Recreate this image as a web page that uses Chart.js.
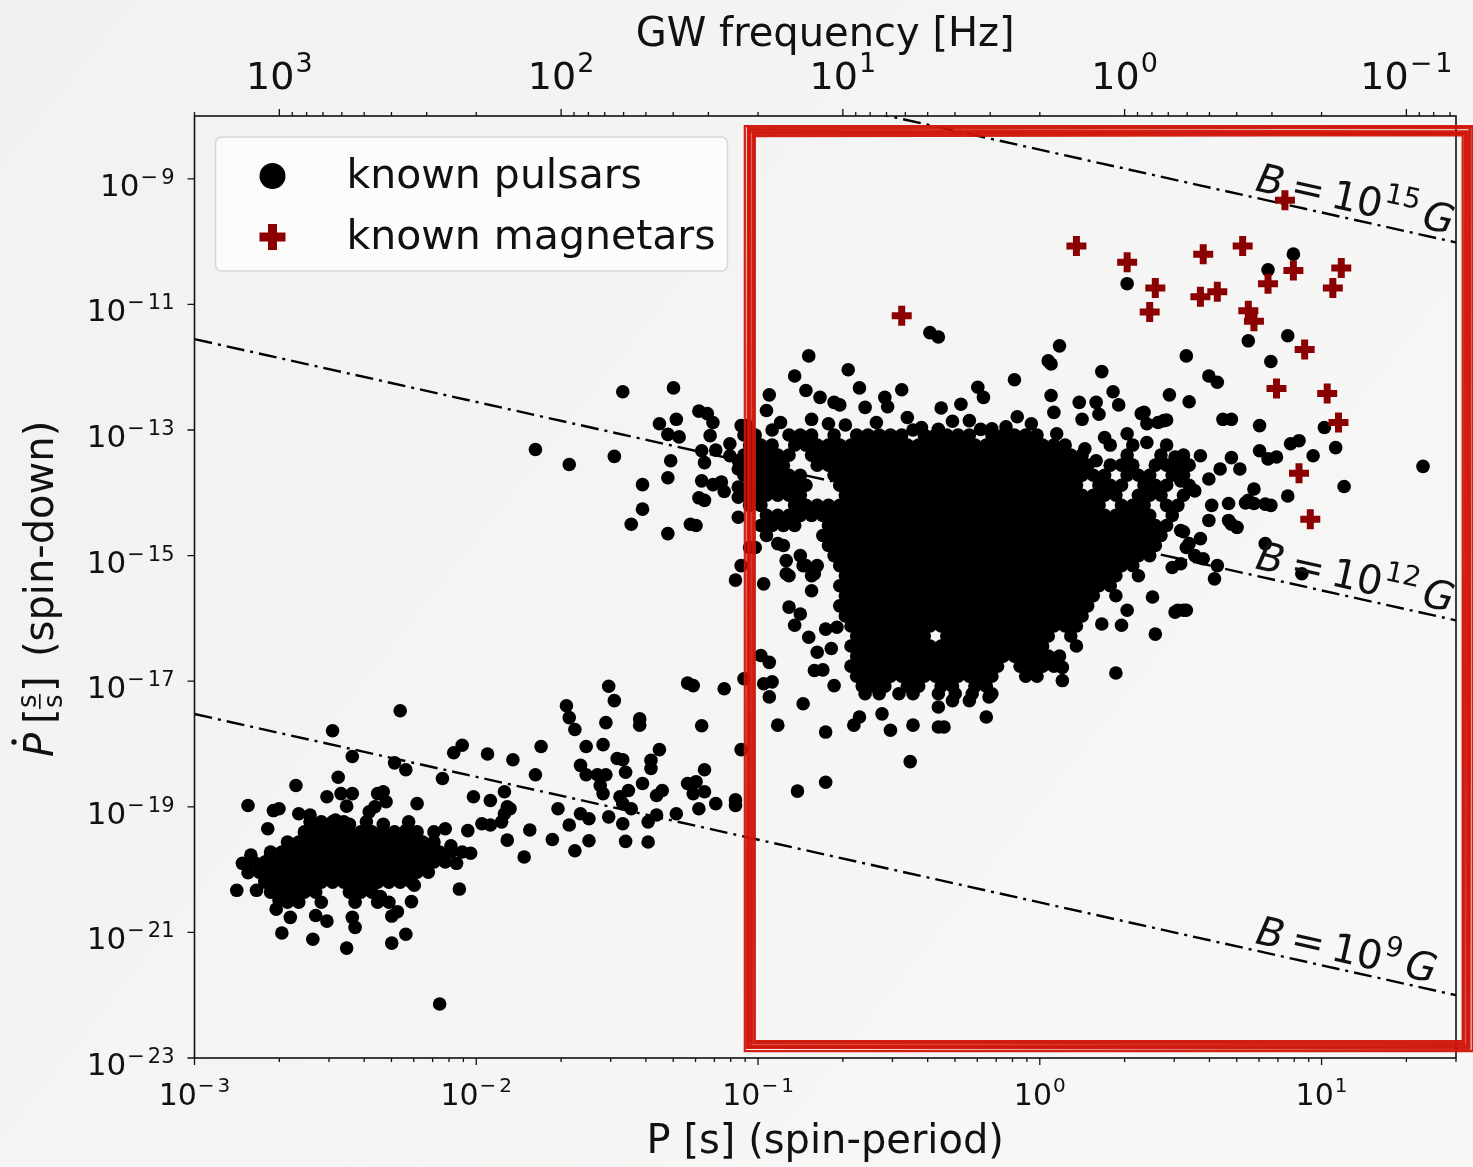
<!DOCTYPE html>
<html>
<head>
<meta charset="utf-8">
<script src="https://cdn.jsdelivr.net/npm/chart.js@4.4.1/dist/chart.umd.min.js"></script>
<style>
  html, body { margin: 0; padding: 0; background: #f4f4f3; }
  #wrap { width: 1473px; height: 1167px; position: relative; }
</style>
</head>
<body>
<div id="wrap"><canvas id="chart"></canvas></div>
<script>
// axis ticks
const periodMajor = [1e-3, 1e-2, 1e-1, 1, 10];
const periodLabels = ['−3', '−2', '−1', '0', '1'];
const freqMajor = [1e3, 1e2, 1e1, 1, 1e-1];
const freqLabels = ['3', '2', '1', '0', '−1'];
const pdotMajor = [1e-9, 1e-11, 1e-13, 1e-15, 1e-17, 1e-19, 1e-21, 1e-23];
const pdotLabels = ['−9', '−11', '−13', '−15', '−17', '−19', '−21', '−23'];

// constant B-field lines (end points at P = 1e-3 s and P = 30 s)
const bLineP = [1e-3, 30];
const bLine9 = [3.0e-18, 1.0e-22];
const bLine12 = [2.8e-12, 9.3e-17];
const bLine15 = [2.9e-6, 9.7e-11];
const bLabelExp = ['9', '12', '15'];
const bLabelP = 5.7;

// known magnetars (log10 P, log10 Pdot)
const magnetarLogP = [0.87, 0.31, 0.58, 0.72, 0.41, 0.39, 0.57, 0.63, 0.81, 0.90, 1.07, 1.04, 0.74, 0.76, 0.94, 0.84, 1.02, 1.06, 0.92, 0.96, 0.13, -0.49];
const magnetarLogPdot = [-9.34, -10.33, -10.20, -10.07, -10.74, -11.12, -10.88, -10.80, -10.67, -10.46, -10.42, -10.74, -11.10, -11.27, -11.72, -12.34, -12.42, -12.88, -13.69, -14.42, -10.07, -11.18];

// known pulsars, [log10 P, log10 Pdot]
const mspPulsars = [
  [-2.27,-17.47],[-2.51,-17.79],[-2.44,-18.20],[-2.29,-18.30],[-2.25,-18.41],[-2.05,-18.02],[-2.08,-18.14],[-1.96,-18.16],
  [-2.12,-18.55],[-2.49,-18.53],[-2.64,-18.66],[-2.53,-18.84],[-2.48,-18.79],[-2.44,-18.79],[-2.46,-18.99],[-2.35,-18.79],
  [-2.33,-18.76],[-2.32,-18.92],[-2.21,-18.95],[-2.38,-19.08],[-2.36,-19.00],[-2.81,-18.98],[-2.72,-19.06],[-2.70,-19.03],
  [-2.63,-19.11],[-2.59,-19.13],[-2.50,-19.21],[-2.45,-19.28],[-2.33,-19.28],[-2.24,-19.24],[-2.25,-19.38],[-2.74,-19.35],
  [-2.57,-19.32],[-2.15,-19.40],[-2.11,-19.35],[-2.03,-19.38],[-1.98,-19.27],[-1.95,-19.29],[-1.91,-19.24],[-1.90,-19.11],
  [-1.89,-19.00],[-2.01,-18.84],[-1.95,-18.90],[-2.06,-20.31],[-2.02,-19.74],[-2.07,-19.90],[-2.13,-22.14],[-2.85,-20.33],
  [-2.80,-19.77],[-2.78,-20.33],[-2.71,-20.63],[-2.66,-20.76],[-2.69,-21.01],[-2.58,-21.11],[-2.53,-20.82],[-2.57,-20.73],
  [-2.46,-21.25],[-2.43,-20.92],[-2.44,-20.76],[-2.30,-21.17],[-2.25,-21.03],[-2.28,-20.67],[-2.30,-20.74],[-2.23,-20.51],
  [-2.34,-20.43],[-2.22,-20.25],[-2.73,-19.77],[-2.75,-20.17],[-2.70,-20.49],[-2.83,-19.90],[-2.81,-20.05],[-2.09,-19.62]
];
const mspCoreRows = [
  [-19.24, [-2.59,-2.55,-2.51,-2.47,-2.39]],
  [-19.40, [-2.61,-2.57,-2.53,-2.49,-2.45,-2.41,-2.37,-2.33,-2.29,-2.25,-2.21]],
  [-19.56, [-2.67,-2.63,-2.59,-2.55,-2.51,-2.47,-2.43,-2.39,-2.35,-2.31,-2.27,-2.23,-2.19,-2.15]],
  [-19.72, [-2.73,-2.69,-2.65,-2.61,-2.57,-2.53,-2.49,-2.45,-2.41,-2.37,-2.33,-2.29,-2.25,-2.21,-2.17,-2.13,-2.09,-2.05]],
  [-19.88, [-2.79,-2.75,-2.71,-2.67,-2.63,-2.59,-2.55,-2.51,-2.47,-2.43,-2.39,-2.35,-2.31,-2.27,-2.23,-2.19,-2.15,-2.11]],
  [-20.04, [-2.77,-2.73,-2.69,-2.65,-2.61,-2.57,-2.53,-2.49,-2.45,-2.41,-2.37,-2.33,-2.29,-2.25,-2.21,-2.17]],
  [-20.20, [-2.75,-2.71,-2.67,-2.63,-2.59,-2.55,-2.51,-2.47,-2.43,-2.39,-2.35,-2.31,-2.27,-2.23]],
  [-20.36, [-2.73,-2.69,-2.65,-2.61,-2.57,-2.45,-2.41,-2.37]],
  [-20.52, [-2.67,-2.63,-2.55,-2.43,-2.35,-2.31]]
];
const recycledPulsars = [
  [-1.48,-12.39],[-1.30,-12.33],[-1.79,-13.31],[-1.67,-13.55],[-1.51,-13.42],[-1.35,-12.90],[-1.29,-12.83],[-1.21,-12.70],
  [-1.18,-12.74],[-1.16,-12.88],[-1.32,-13.07],[-1.28,-13.11],[-1.17,-13.09],[-1.06,-12.93],[-1.31,-13.49],[-1.32,-13.76],
  [-1.41,-13.87],[-1.41,-14.26],[-1.45,-14.50],[-1.32,-14.65],[-1.24,-14.50],[-1.22,-14.52],[-1.20,-13.33],[-1.15,-13.32],
  [-1.19,-13.52],[-1.10,-13.22],[-1.10,-13.41],[-1.07,-13.49],[-1.07,-13.62],[-1.20,-13.81],[-1.16,-13.87],[-1.13,-13.83],
  [-1.12,-13.98],[-1.21,-14.08],[-1.19,-14.12],[-1.07,-14.07],[-1.07,-14.39],[-1.07,-13.91],[-1.03,-14.87],[-1.06,-15.16],
  [-1.08,-15.39],[-1.25,-17.03],[-1.23,-17.07],[-1.12,-17.12],[-1.53,-17.08],[-1.51,-17.31],[-1.68,-17.39],[-1.67,-17.58],
  [-1.65,-17.77],[-1.54,-17.66],[-1.42,-17.60],[-1.42,-17.70],[-1.20,-17.71],[-1.77,-18.04],[-1.61,-18.04],[-1.55,-18.01],
  [-1.35,-18.09],[-1.87,-18.25],[-1.63,-18.34],[-1.50,-18.23],[-1.48,-18.25],[-1.38,-18.26],[-1.38,-18.39],[-1.47,-18.45],
  [-1.79,-18.49],[-1.61,-18.49],[-1.57,-18.49],[-1.54,-18.49],[-1.19,-18.41],[-1.06,-18.09],[-1.41,-18.63],[-1.56,-18.66],
  [-1.25,-18.63],[-1.22,-18.60],[-1.34,-18.74],[-1.36,-18.82],[-1.46,-18.74],[-1.55,-18.79],[-1.49,-18.84],[-1.23,-18.79],
  [-1.19,-18.76],[-1.15,-18.95],[-1.08,-18.89],[-1.08,-18.98],[-1.21,-19.03],[-1.29,-19.11],[-1.48,-18.95],[-1.45,-19.03],
  [-1.53,-19.16],[-1.63,-19.11],[-1.60,-19.19],[-1.67,-19.29],[-1.71,-19.03],[-1.48,-19.27],[-1.39,-19.24],[-1.36,-19.13],
  [-1.60,-19.54],[-1.47,-19.55],[-1.39,-19.56],[-1.73,-19.52],[-1.65,-19.70],[-1.83,-19.80],[-1.81,-19.37],[-1.89,-19.53],
  [-1.88,-19.03],[-1.90,-18.76]
];
const youngPulsars = [
  [-0.39,-11.45],[-0.36,-11.52],[-0.82,-11.82],[0.07,-11.66],[0.03,-11.90],[0.04,-11.95],[0.22,-12.07],[-0.68,-12.04],
  [-0.09,-12.20],[-0.87,-12.14],[-0.83,-12.37],[-0.64,-12.33],[-0.96,-12.44],[-0.78,-12.48],[-0.73,-12.56],[-0.71,-12.60],
  [-0.49,-12.36],[-0.55,-12.48],[-0.22,-12.32],[-0.20,-12.48],[0.04,-12.45],[0.26,-12.39],[0.46,-12.44],[0.52,-11.82],
  [0.14,-12.56],[0.20,-12.56],[0.28,-12.60],[-0.35,-12.65],[-0.28,-12.59],[-0.54,-12.63],[-0.97,-12.69],[-0.08,-12.79],
  [0.05,-12.72],[0.15,-12.83],[0.21,-12.75],[0.37,-12.72],[0.44,-12.85],[0.23,-13.12],[0.31,-13.06],[0.38,-13.20],
  [0.06,-13.06],[0.16,-13.30],[0.20,-13.49],[0.04,-13.30],[-0.81,-12.83],[-0.75,-12.90],[-0.92,-12.88],[-1.04,-12.93],
  [-0.62,-12.64],[-0.42,-12.96],[-0.36,-12.99],[-0.21,-12.99],[-0.17,-12.98],[-0.03,-12.90],[0.48,-13.43],[0.50,-13.81],
  [0.47,-15.19],[0.40,-15.66],[0.48,-15.90],[0.51,-15.87],[0.41,-16.25],[0.31,-15.87],[0.29,-16.11],[0.22,-16.09],
  [0.27,-16.87],[0.08,-16.99],[0.08,-16.78],[-0.19,-17.57],[-0.36,-17.73],[-0.34,-17.73],[-0.45,-17.70],[-0.53,-17.78],
  [-0.56,-17.52],[-0.64,-17.57],[-0.66,-17.70],[-0.76,-17.81],[-0.93,-17.70],[-0.84,-17.36],[-0.73,-17.07],[-0.36,-17.41],
  [-0.31,-17.31],[-0.25,-17.31],[-0.18,-17.25],[-0.81,-15.56],[-0.98,-15.45],[-0.89,-15.82],[-0.85,-15.93],[-0.87,-16.11],
  [-0.82,-16.30],[-0.76,-16.17],[-0.72,-16.14],[-0.79,-16.54],[-0.74,-16.48],[-0.80,-16.83],[-0.77,-16.82],[-0.99,-16.59],
  [-0.96,-16.70],[-0.98,-17.04],[-0.95,-17.01],[-0.96,-17.25],[-1.05,-16.96],[-0.93,-14.81],[-0.90,-15.08],[-0.84,-15.16],
  [-0.80,-15.29],[-1.01,-14.87],[-0.90,-15.29],[-0.86,-18.75],[-0.76,-18.61],[-0.46,-18.28],
  [-0.69,-12.92],[-0.58,-12.88],[-0.47,-12.80],[-0.31,-12.86],[-0.12,-12.95],[-0.95,-13.00],[-0.45,-13.00],[-0.25,-12.85]
];
const slowPulsars = [
  [0.90,-10.20],[0.81,-10.45],[0.31,-10.67],[0.88,-11.50],[0.74,-11.58],[0.82,-11.91],[0.60,-12.14],[0.63,-12.24],
  [0.53,-12.55],[0.36,-12.74],[0.42,-12.88],[0.45,-12.84],[0.38,-12.90],[0.65,-12.83],[0.68,-12.83],[0.78,-12.93],
  [0.78,-13.33],[0.81,-13.46],[0.84,-13.43],[0.89,-13.22],[0.92,-13.17],[0.97,-13.41],[1.01,-12.96],[1.05,-13.28],
  [1.08,-13.90],[0.88,-14.05],[1.36,-13.58],[0.68,-13.44],[0.57,-13.41],[0.71,-13.62],[0.64,-13.62],[0.60,-13.78],
  [0.55,-13.97],[0.76,-13.94],[0.74,-14.12],[0.80,-14.18],[0.82,-14.20],[0.60,-14.44],[0.67,-14.44],[0.70,-14.55],
  [0.57,-14.73],[0.50,-14.60],[0.53,-14.81],[0.61,-14.20],[0.67,-14.17],[0.73,-14.16],[0.76,-14.17],[0.68,-14.50],
  [0.51,-14.62],[0.52,-14.87],[0.50,-15.13],[0.63,-15.16],[0.62,-15.37],[0.93,-15.29],[0.52,-15.87],[0.49,-15.87],
  [0.80,-14.81],[0.55,-15.00],[0.58,-15.05]
];
// the dense part of the normal pulsar population, one row per log10 Pdot level
const pulsarCoreRows = [
  [-13.08, [-1.05,-1.01,-0.89,-0.85,-0.81,-0.73,-0.65,-0.61,-0.57,-0.53,-0.49,-0.41,-0.37,-0.33,-0.29,-0.25,-0.17,-0.13,-0.09,-0.05,-0.01]],
  [-13.24, [-1.03,-0.99,-0.95,-0.87,-0.83,-0.79,-0.75,-0.71,-0.67,-0.63,-0.59,-0.55,-0.51,-0.47,-0.43,-0.39,-0.35,-0.31,-0.27,-0.23,-0.19,-0.15,-0.11,-0.07,-0.03,0.01,0.05,0.09,0.25,0.33,0.45]],
  [-13.40, [-1.05,-1.01,-0.97,-0.93,-0.89,-0.81,-0.77,-0.73,-0.69,-0.65,-0.61,-0.57,-0.53,-0.49,-0.45,-0.41,-0.37,-0.33,-0.29,-0.25,-0.21,-0.17,-0.13,-0.09,-0.05,-0.01,0.03,0.07,0.11,0.15,0.31,0.43,0.51]],
  [-13.56, [-1.03,-0.99,-0.95,-0.91,-0.79,-0.75,-0.71,-0.67,-0.63,-0.59,-0.55,-0.51,-0.47,-0.43,-0.39,-0.35,-0.31,-0.27,-0.23,-0.19,-0.15,-0.11,-0.07,-0.03,0.01,0.05,0.09,0.13,0.17,0.25,0.29,0.33,0.41,0.45,0.49,0.53]],
  [-13.72, [-1.05,-1.01,-0.97,-0.93,-0.89,-0.85,-0.73,-0.69,-0.65,-0.61,-0.57,-0.53,-0.49,-0.45,-0.41,-0.37,-0.33,-0.29,-0.25,-0.21,-0.17,-0.13,-0.09,-0.05,-0.01,0.03,0.07,0.11,0.15,0.19,0.23,0.31,0.35,0.39,0.47,0.51]],
  [-13.88, [-1.03,-0.99,-0.95,-0.91,-0.87,-0.83,-0.71,-0.67,-0.63,-0.59,-0.55,-0.51,-0.47,-0.43,-0.39,-0.35,-0.31,-0.27,-0.23,-0.19,-0.15,-0.11,-0.07,-0.03,0.01,0.05,0.09,0.13,0.21,0.25,0.29,0.37,0.41,0.45,0.53]],
  [-14.04, [-1.05,-1.01,-0.97,-0.93,-0.89,-0.85,-0.69,-0.65,-0.61,-0.57,-0.53,-0.49,-0.45,-0.41,-0.37,-0.33,-0.29,-0.25,-0.21,-0.17,-0.13,-0.09,-0.05,-0.01,0.03,0.07,0.11,0.15,0.19,0.23,0.27,0.35,0.39,0.43,0.51]],
  [-14.20, [-1.03,-0.99,-0.87,-0.83,-0.79,-0.75,-0.71,-0.67,-0.63,-0.59,-0.55,-0.51,-0.47,-0.43,-0.39,-0.35,-0.31,-0.27,-0.23,-0.19,-0.15,-0.11,-0.07,-0.03,0.01,0.05,0.09,0.13,0.17,0.21,0.29,0.33,0.37,0.45,0.49]],
  [-14.36, [-0.97,-0.93,-0.89,-0.85,-0.81,-0.77,-0.73,-0.69,-0.65,-0.61,-0.57,-0.53,-0.49,-0.45,-0.41,-0.37,-0.33,-0.29,-0.25,-0.21,-0.17,-0.13,-0.09,-0.05,-0.01,0.03,0.07,0.11,0.15,0.19,0.23,0.27,0.31,0.35,0.39,0.47]],
  [-14.52, [-0.99,-0.95,-0.91,-0.87,-0.75,-0.71,-0.67,-0.63,-0.59,-0.55,-0.51,-0.47,-0.43,-0.39,-0.35,-0.31,-0.27,-0.23,-0.19,-0.15,-0.11,-0.07,-0.03,0.01,0.05,0.09,0.13,0.17,0.21,0.25,0.29,0.33,0.37,0.41,0.45]],
  [-14.68, [-0.97,-0.77,-0.73,-0.69,-0.65,-0.61,-0.57,-0.53,-0.49,-0.45,-0.41,-0.37,-0.33,-0.29,-0.25,-0.21,-0.17,-0.13,-0.09,-0.05,-0.01,0.03,0.07,0.11,0.15,0.19,0.23,0.27,0.31,0.35,0.39,0.43]],
  [-14.84, [-0.91,-0.75,-0.71,-0.67,-0.63,-0.59,-0.55,-0.51,-0.47,-0.43,-0.39,-0.35,-0.31,-0.27,-0.23,-0.19,-0.15,-0.11,-0.07,-0.03,0.01,0.05,0.09,0.13,0.17,0.21,0.25,0.29,0.33,0.37,0.41]],
  [-15.00, [-0.85,-0.73,-0.69,-0.65,-0.61,-0.57,-0.53,-0.49,-0.45,-0.41,-0.37,-0.33,-0.29,-0.25,-0.21,-0.17,-0.13,-0.09,-0.05,-0.01,0.03,0.07,0.11,0.15,0.19,0.23,0.27,0.31,0.35,0.39]],
  [-15.16, [-0.83,-0.79,-0.71,-0.67,-0.63,-0.59,-0.55,-0.51,-0.47,-0.43,-0.39,-0.35,-0.31,-0.27,-0.23,-0.19,-0.15,-0.11,-0.07,-0.03,0.01,0.05,0.09,0.13,0.17,0.21,0.25,0.29,0.33]],
  [-15.32, [-0.89,-0.81,-0.69,-0.65,-0.61,-0.57,-0.53,-0.49,-0.45,-0.41,-0.37,-0.33,-0.29,-0.25,-0.21,-0.17,-0.13,-0.09,-0.05,-0.01,0.03,0.07,0.11,0.15,0.19,0.23,0.27,0.35]],
  [-15.48, [-0.71,-0.67,-0.63,-0.59,-0.55,-0.51,-0.47,-0.43,-0.39,-0.35,-0.31,-0.27,-0.23,-0.19,-0.15,-0.11,-0.07,-0.03,0.01,0.05,0.09,0.13,0.17,0.21,0.25]],
  [-15.64, [-0.69,-0.65,-0.61,-0.57,-0.53,-0.49,-0.45,-0.41,-0.37,-0.33,-0.29,-0.25,-0.21,-0.17,-0.13,-0.09,-0.05,-0.01,0.03,0.07,0.11,0.15,0.19,0.27]],
  [-15.80, [-0.71,-0.67,-0.63,-0.59,-0.55,-0.51,-0.47,-0.43,-0.39,-0.35,-0.31,-0.27,-0.23,-0.19,-0.15,-0.11,-0.07,-0.03,0.01,0.05,0.09,0.13,0.17]],
  [-15.96, [-0.69,-0.65,-0.61,-0.57,-0.53,-0.49,-0.45,-0.41,-0.37,-0.33,-0.29,-0.25,-0.21,-0.17,-0.13,-0.09,-0.05,-0.01,0.03,0.07,0.11,0.15]],
  [-16.12, [-0.67,-0.63,-0.59,-0.55,-0.51,-0.47,-0.43,-0.39,-0.35,-0.31,-0.27,-0.23,-0.19,-0.15,-0.11,-0.07,-0.03,0.01,0.05,0.09,0.13]],
  [-16.28, [-0.65,-0.61,-0.57,-0.53,-0.49,-0.45,-0.41,-0.33,-0.29,-0.25,-0.21,-0.17,-0.13,-0.09,-0.05,-0.01,0.03,0.11]],
  [-16.44, [-0.67,-0.63,-0.59,-0.55,-0.51,-0.47,-0.43,-0.39,-0.35,-0.31,-0.27,-0.23,-0.19,-0.15,-0.11,-0.07,-0.03,0.01,0.13]],
  [-16.60, [-0.65,-0.61,-0.57,-0.53,-0.49,-0.45,-0.41,-0.37,-0.33,-0.29,-0.25,-0.21,-0.17,-0.13,-0.09,-0.05,-0.01,0.03,0.07]],
  [-16.76, [-0.67,-0.63,-0.59,-0.55,-0.51,-0.47,-0.43,-0.39,-0.35,-0.31,-0.27,-0.23,-0.19,-0.15,-0.07,-0.03,0.01,0.05]],
  [-16.92, [-0.65,-0.61,-0.57,-0.53,-0.49,-0.45,-0.41,-0.37,-0.33,-0.29,-0.25,-0.21,-0.17,-0.05,-0.01]],
  [-17.08, [-0.63,-0.59,-0.55,-0.47,-0.43,-0.35,-0.31,-0.23,-0.19]],
  [-17.20, [-0.62,-0.57,-0.50,-0.45,-0.36,-0.30,-0.24,-0.17]]
];

// hand-drawn highlight box, in data units
const highlightP = [0.0935, 33];
const highlightPdot = [1.55e-23, 5.75e-9];

const FONT = '"DejaVu Sans", sans-serif';
const TEXT = '#111';

function pairsToPoints(pairs) {
  return pairs.map(p => ({ x: Math.pow(10, p[0]), y: Math.pow(10, p[1]) }));
}
function rowsToPoints(rows) {
  const out = [];
  rows.forEach(r => r[1].forEach(lp => out.push({ x: Math.pow(10, lp), y: Math.pow(10, r[0]) })));
  return out;
}

const pulsarData = [].concat(
  pairsToPoints(mspPulsars), rowsToPoints(mspCoreRows), pairsToPoints(recycledPulsars),
  pairsToPoints(youngPulsars), pairsToPoints(slowPulsars), rowsToPoints(pulsarCoreRows)
);
const magnetarData = magnetarLogP.map((lp, i) => ({ x: Math.pow(10, lp), y: Math.pow(10, magnetarLogPdot[i]) }));

function lineData(pdots) {
  return bLineP.map((p, i) => ({ x: p, y: pdots[i] }));
}
const bLines = [bLine9, bLine12, bLine15];

// "10" with a superscript exponent
function drawPower(ctx, exp, x, y, size, supSize, rise, align) {
  ctx.font = size + 'px ' + FONT;
  const wb = ctx.measureText('10').width;
  ctx.font = supSize + 'px ' + FONT;
  const neg = exp.charAt(0) === '−';
  const digits = neg ? exp.slice(1) : exp;
  const wm = neg ? ctx.measureText('−').width + 3 : 0;
  const ws = wm + ctx.measureText(digits).width;
  const total = wb + 1 + ws;
  const x0 = align === 'center' ? x - total / 2 : x - total;
  ctx.textAlign = 'left';
  ctx.textBaseline = 'alphabetic';
  ctx.font = size + 'px ' + FONT;
  ctx.fillText('10', x0, y);
  ctx.font = supSize + 'px ' + FONT;
  if (neg) ctx.fillText('−', x0 + wb + 1, y - rise);
  ctx.fillText(digits, x0 + wb + 1 + wm, y - rise);
}

function drawBLabel(ctx, chart, pdots, exp) {
  const xs = chart.scales.x, ys = chart.scales.y;
  const x0 = xs.getPixelForValue(bLineP[0]), y0 = ys.getPixelForValue(pdots[0]);
  const x1 = xs.getPixelForValue(bLineP[1]), y1 = ys.getPixelForValue(pdots[1]);
  const ang = Math.atan2(y1 - y0, x1 - x0);
  const ax = xs.getPixelForValue(bLabelP);
  const ay = y0 + (ax - x0) * (y1 - y0) / (x1 - x0);
  ctx.save();
  ctx.translate(ax, ay);
  ctx.rotate(ang);
  ctx.translate(0, -7);
  ctx.fillStyle = TEXT;
  ctx.textAlign = 'left';
  ctx.textBaseline = 'alphabetic';
  let cx = 0;
  ctx.font = 'italic 40px ' + FONT;
  ctx.fillText('B', cx, 0);
  cx += ctx.measureText('B').width + 8;
  ctx.font = '40px ' + FONT;
  ctx.fillText('=', cx, 0);
  cx += ctx.measureText('=').width + 8;
  ctx.fillText('10', cx, 0);
  cx += ctx.measureText('10').width + 1;
  ctx.font = '28px ' + FONT;
  ctx.fillText(exp, cx, -17);
  cx += ctx.measureText(exp).width + 6;
  ctx.font = 'italic 40px ' + FONT;
  ctx.fillText('G', cx, 0);
  ctx.restore();
}

function drawPlus(ctx, x, y, size, arm, color) {
  ctx.fillStyle = color;
  ctx.fillRect(x - size / 2, y - arm / 2, size, arm);
  ctx.fillRect(x - arm / 2, y - size / 2, arm, size);
}

const decor = {
  id: 'decor',
  beforeDraw(chart) {
    const { ctx, width, height } = chart;
    const g = ctx.createLinearGradient(0, 0, width, height);
    g.addColorStop(0, '#f1f1f1');
    g.addColorStop(1, '#f8f8f7');
    ctx.save();
    ctx.fillStyle = g;
    ctx.fillRect(0, 0, width, height);
    ctx.restore();
  },
  afterDraw(chart) {
    const { ctx, chartArea: a, scales } = chart;
    const xs = scales.x, x2 = scales.x2, ys = scales.y;
    ctx.save();

    // B-field labels
    bLines.forEach((l, i) => drawBLabel(ctx, chart, l, bLabelExp[i]));

    // spines
    ctx.strokeStyle = '#111';
    ctx.lineWidth = 1.6;
    ctx.strokeRect(a.left, a.top, a.right - a.left, a.bottom - a.top);

    // bottom ticks
    ctx.lineWidth = 1.3;
    ctx.beginPath();
    for (let e = -3; e <= 1; e++) {
      for (let k = 1; k <= 9; k++) {
        const v = k * Math.pow(10, e);
        if (v > 30.01) break;
        const px = xs.getPixelForValue(v);
        ctx.moveTo(px, a.bottom);
        ctx.lineTo(px, a.bottom + (k === 1 ? 7 : 4));
      }
    }
    // top ticks (GW frequency = 2 / P)
    for (let e = -2; e <= 3; e++) {
      for (let k = 1; k <= 9; k++) {
        const v = k * Math.pow(10, e);
        if (v < 2 / 30 - 1e-9 || v > 2000.01) continue;
        const px = x2.getPixelForValue(v);
        ctx.moveTo(px, a.top);
        ctx.lineTo(px, a.top - (k === 1 ? 7 : 4));
      }
    }
    // left ticks
    pdotMajor.forEach(v => {
      const py = ys.getPixelForValue(v);
      ctx.moveTo(a.left, py);
      ctx.lineTo(a.left - 7, py);
    });
    ctx.stroke();

    // tick labels
    ctx.fillStyle = TEXT;
    periodMajor.forEach((v, i) => {
      drawPower(ctx, periodLabels[i], xs.getPixelForValue(v), a.bottom + 47, 30, 20, 13, 'center');
    });
    freqMajor.forEach((v, i) => {
      drawPower(ctx, freqLabels[i], x2.getPixelForValue(v), a.top - 27, 38, 27, 17, 'center');
    });
    pdotMajor.forEach((v, i) => {
      drawPower(ctx, pdotLabels[i], a.left - 20, ys.getPixelForValue(v) + 17, 31, 21, 12, 'right');
    });

    // axis titles
    const cxm = (a.left + a.right) / 2;
    ctx.textAlign = 'center';
    ctx.font = '40px ' + FONT;
    ctx.fillText('GW frequency [Hz]', cxm, 46);
    ctx.fillText('P [s] (spin-period)', cxm, 1153);

    // y title:  P-dot [s/s] (spin-down), rotated
    ctx.save();
    ctx.translate(53, 757);
    ctx.rotate(-Math.PI / 2);
    ctx.textAlign = 'left';
    ctx.font = 'italic 40px ' + FONT;
    ctx.fillText('P', 0, 0);
    ctx.beginPath();
    ctx.arc(15, -39, 2.7, 0, Math.PI * 2);
    ctx.fill();
    ctx.font = '40px ' + FONT;
    ctx.fillText('[', 33, 0);
    ctx.font = '26px ' + FONT;
    ctx.fillText('s', 49, -17);
    ctx.fillText('s', 49, 9);
    ctx.fillRect(48, -14, 15, 1.6);
    ctx.font = '40px ' + FONT;
    ctx.fillText(']', 65, 0);
    ctx.fillText('(spin-down)', 100, 0);
    ctx.restore();

    // legend
    const lx = a.left + 21, ly = a.top + 21;
    ctx.beginPath();
    ctx.roundRect(lx, ly, 512, 134, 6);
    ctx.fillStyle = 'rgba(253,253,253,0.85)';
    ctx.fill();
    ctx.strokeStyle = '#d6d6d6';
    ctx.lineWidth = 1.5;
    ctx.stroke();
    ctx.fillStyle = '#000';
    ctx.beginPath();
    ctx.arc(lx + 57, ly + 39, 13, 0, Math.PI * 2);
    ctx.fill();
    drawPlus(ctx, lx + 57, ly + 100, 26, 9, '#8b0000');
    ctx.fillStyle = TEXT;
    ctx.textAlign = 'left';
    ctx.font = '41px ' + FONT;
    ctx.fillText('known pulsars', lx + 131, ly + 51);
    ctx.fillText('known magnetars', lx + 131, ly + 112);

    // hand-drawn highlight box
    const bx0 = xs.getPixelForValue(highlightP[0]), bx1 = xs.getPixelForValue(highlightP[1]);
    const by0 = ys.getPixelForValue(highlightPdot[1]), by1 = ys.getPixelForValue(highlightPdot[0]);
    const passes = [[-5, 2.2], [-2.5, 3], [0, 3.5], [2.5, 3], [5, 2.2]];
    ctx.strokeStyle = 'rgba(208,20,8,0.95)';
    passes.forEach(([d, w], i) => {
      ctx.lineWidth = w;
      ctx.beginPath();
      ctx.moveTo(bx0 - d + (i % 2), by0 - d);
      ctx.lineTo(bx1 + d, by0 - d + (i % 3) - 1);
      ctx.lineTo(bx1 + d - (i % 2), by1 + d);
      ctx.lineTo(bx0 - d, by1 + d - (i % 2));
      ctx.closePath();
      ctx.stroke();
    });
    ctx.restore();
  }
};

const datasets = [
  {
    label: 'known magnetars', data: magnetarData, pointStyle: 'cross',
    pointRadius: 10, pointHoverRadius: 10, borderWidth: 7, borderColor: '#8b0000',
    backgroundColor: '#8b0000', order: 0
  }
];
bLines.forEach(l => datasets.push({
  label: 'B', data: lineData(l), showLine: true, pointRadius: 0, borderColor: '#000',
  borderWidth: 2.4, borderDash: [18, 6, 3, 6], fill: false, order: 1
}));
datasets.push({
  label: 'known pulsars', data: pulsarData, pointRadius: 6.8, pointHoverRadius: 6.8,
  backgroundColor: '#000', borderWidth: 0, order: 2
});

new Chart(document.getElementById('chart'), {
  type: 'scatter',
  data: { datasets },
  options: {
    responsive: true,
    maintainAspectRatio: false,
    devicePixelRatio: 1,
    animation: false,
    events: [],
    layout: { padding: { left: 194.5, right: 15, top: 116, bottom: 109 } },
    scales: {
      x: { type: 'logarithmic', min: 1e-3, max: 30, display: false },
      x2: { type: 'logarithmic', axis: 'x', position: 'top', min: 2 / 30, max: 2000, reverse: true, display: false },
      y: { type: 'logarithmic', min: 1e-23, max: 1e-8, display: false }
    },
    plugins: { legend: { display: false }, tooltip: { enabled: false } }
  },
  plugins: [decor]
});
</script>
</body>
</html>
